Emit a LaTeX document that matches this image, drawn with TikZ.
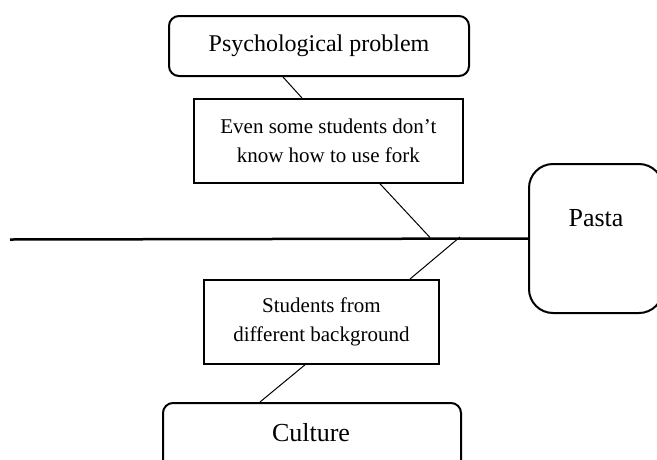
\documentclass[tikz,border=0pt]{standalone}
\usepackage{fontspec}
\setmainfont{Liberation Serif}
\usetikzlibrary{calc}
\begin{document}
\begin{tikzpicture}[x=1pt,y=-1pt,
  rbox/.style={draw,line width=2pt,rounded corners=10pt,inner sep=0pt,anchor=north west},
  sbox/.style={draw,line width=1.8pt,inner sep=0pt,anchor=north west,align=center,font=\fontsize{21}{29.5}\selectfont},
  branch/.style={line width=1pt}]
\useasboundingbox (0,0) rectangle (657,459);
% boxes
\node[rbox,minimum width=300pt,minimum height=60pt,font=\fontsize{24}{28}\selectfont] (psych) at (168,15) {Psychological problem};
\node[sbox,minimum width=269pt,minimum height=84pt] (even) at (193,98) {Even some students don’t\\know how to use fork};
\node[sbox,minimum width=235pt,minimum height=84pt] (stud) at (203,279) {Students from\\different background};
\node[rbox,minimum width=298pt,minimum height=80pt] (cult) at (162,402) {};
\node[font=\fontsize{26}{30}\selectfont] (culttext) at (311,433) {Culture};
\node[rbox,rounded corners=24pt,minimum width=134pt,minimum height=149pt] (pasta) at (528,163) {};
\node[font=\fontsize{26}{30}\selectfont] (pastatext) at (596,218) {Pasta};
% spine
\coordinate (tail) at (10,239.5);
\draw[line width=2.5pt] (tail) -- (pasta.west);
\coordinate (j1) at (430,237.5);
\coordinate (j2) at (460,237);
% branches
\draw[branch] ($(psych.south west)+(115,0)$) -- ($(even.north west)+(109,0)$);
\draw[branch] ($(even.south west)+(187,0)$) -- (j1);
\draw[branch] (j2) -- ($(stud.north west)+(207,0)$);
\draw[branch] ($(stud.south west)+(102,0)$) -- ($(cult.north west)+(98,0)$);
\end{tikzpicture}
\end{document}
